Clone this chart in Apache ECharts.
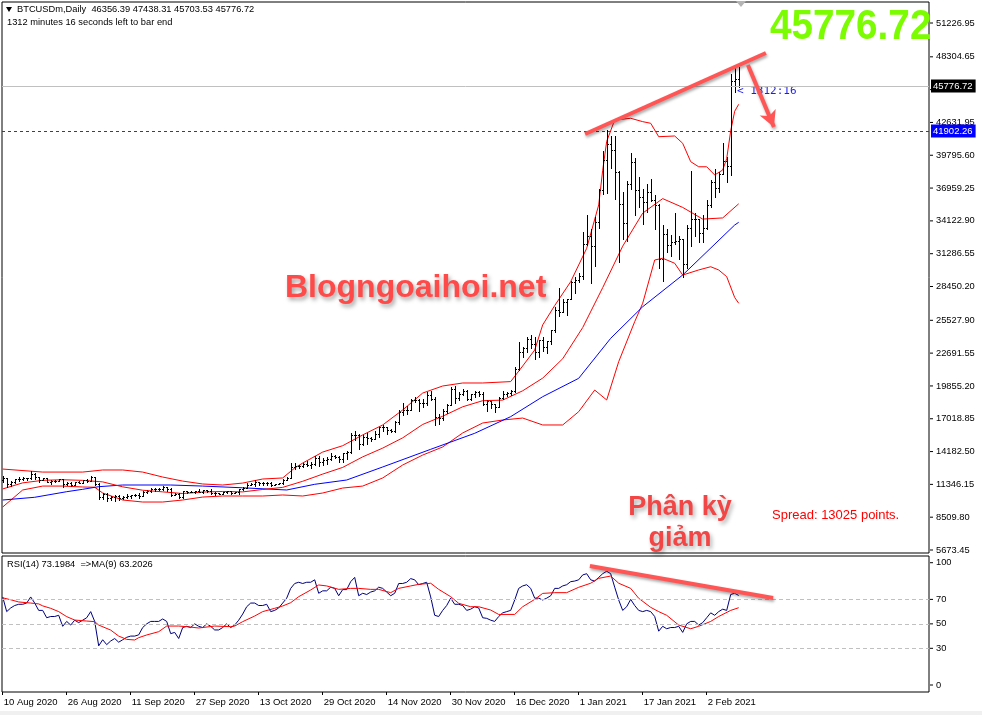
<!DOCTYPE html>
<html><head><meta charset="utf-8">
<script src="https://cdn.jsdelivr.net/npm/echarts@6/dist/echarts.min.js"></script>
<style>html,body{margin:0;padding:0;background:#fff;}#c{width:982px;height:715px;}</style>
</head><body><div id="c"></div>
<script>
// ---- categories / ticks ----
const tickIdx = [0,16,32,48,64,80,96,112,128,144,160,176];
const tickLabels = ['10 Aug 2020','26 Aug 2020','11 Sep 2020','27 Sep 2020','13 Oct 2020','29 Oct 2020','14 Nov 2020','30 Nov 2020','16 Dec 2020','1 Jan 2021','17 Jan 2021','2 Feb 2021'];
const priceTicks = [5673.45,8509.80,11346.15,14182.50,17018.85,19855.20,22691.55,25527.90,28450.20,31286.55,34122.90,36959.25,39795.60,42631.95,45468.30,48304.65,51226.95];
const rsiTicks = [0,30,50,70,100];
const rsiLevels = [30,50,70];

// ---- OHLC (daily, 10 Aug 2020 .. 10 Feb 2021) ----
const open = [11710,11880,11410,11585,11785,11770,11865,11890,12255,11990,11760,11880,11590,11680,11665,11775,11365,11490,11325,11540,11505,11710,
11680,11970,11415,10245,10510,10170,10280,10370,10130,10240,10365,10400,10445,10325,10680,10795,10975,10950,10945,11095,10940,10460,10540,10245,10755,10700,10730,10775,10710,10845,
10785,10620,10575,10550,10670,10790,10600,10670,10925,11050,11295,11385,11555,11425,11430,11505,11320,11360,11485,11740,11915,12825,12965,12930,13110,13030,13075,13655,13270,13435,13545,
13780,13735,13550,14025,14145,15590,15580,14835,15480,15330,15290,15700,16275,16315,16070,15955,16715,17645,17805,17815,18620,18640,18370,18365,19105,18730,17150,17110,17720,18175,
19625,18800,19200,19445,18700,19155,19345,19190,18320,18555,18265,18060,18805,19140,19245,19415,21310,22805,23135,23870,23475,22805,23785,23240,23735,24665,26435,26270,27085,27360,28840,
29000,29375,32125,32780,31970,33990,36825,39370,40795,40255,38355,35565,33920,37315,39185,36825,36180,35790,36630,35890,35470,30825,33005,32065,32290,32365,32570,30430,33465,34315,34270,
33115,33535,35510,37470,36925,38145,39265,38905,46195,46356.39];
const high = [12050,11940,11670,11790,12010,11970,11930,12470,12350,12020,11900,11890,11690,11700,11810,11780,11530,11590,11550,11600,11720,11770,
12060,11990,11450,10640,10570,10340,10400,10410,10350,10500,10420,10480,10560,10750,10900,11050,11030,11040,11170,11100,10990,10580,10560,10790,10770,10790,10800,10950,10860,10850,
10920,10660,10600,10690,10800,10800,10690,10950,11100,11490,11440,11700,11560,11550,11540,11540,11400,11490,11800,12010,13180,13160,13000,13160,13330,13240,13780,13840,13610,13680,14030,
13880,13810,14060,14220,15750,15930,15710,15650,15800,15460,15950,16310,16480,16320,16140,16850,17800,18390,18110,18700,18910,18690,18750,19330,19380,18900,17460,17850,18290,19750,
19860,19290,19570,19510,19170,19390,19390,19290,18620,18560,18290,18920,19380,19300,19520,21460,23640,23240,24090,24250,24070,23800,24060,23770,24730,26720,28290,27390,27370,28930,29300,
29600,33160,34610,33440,34440,36880,40180,41950,41440,41420,38400,36630,37600,39970,39580,37900,36850,37300,37760,36330,35550,33790,33450,32940,34800,32790,32570,33780,38410,34830,34290,
34640,35900,37660,38590,38310,40840,39620,46820,47300,47438.31];
const low = [11520,11130,11240,11500,11660,11710,11700,11850,11820,11590,11700,11510,11400,11550,11610,11160,11300,11180,11300,11450,11480,11590,
11620,11250,10120,10060,9890,10020,9920,9990,10090,10200,10200,10350,10210,10300,10620,10670,10800,10840,10900,10780,10370,10400,10150,10210,10580,10670,10620,10680,10640,10700,
10510,10400,10500,10520,10630,10530,10560,10540,10830,11030,11280,11180,11310,11300,11270,11230,11300,11340,11410,11690,11900,12700,12720,12890,12920,12790,13050,12940,12990,13130,13450,
13620,13240,13290,13560,14100,15210,14390,14780,14870,15090,15280,15450,15980,15720,15870,15890,16570,17340,17400,17760,18430,17670,18020,18180,18600,16440,16580,16880,17550,18170,
18370,18610,19080,18630,18610,18910,18950,18220,17660,17950,17620,18030,18760,19000,19100,19300,21240,22370,22800,23150,22160,22390,22840,22730,23460,24520,25920,26210,25990,27360,27850,
28800,29090,32050,28720,30220,33510,36420,36570,38720,35980,30550,32530,32380,36870,34660,35360,33850,34880,35850,33410,30070,28950,31390,31100,32090,30830,29240,30020,31970,32840,32300,
32300,33420,35360,36160,36620,38140,37450,38090,45300,45703.53];
const close = [11880,11410,11585,11785,11770,11865,11890,12255,11990,11760,11880,11590,11680,11665,11775,11365,11490,11325,11540,11505,11710,11680,
11970,11415,10245,10510,10170,10280,10370,10130,10240,10365,10400,10445,10325,10680,10795,10975,10950,10945,11095,10940,10460,10540,10245,10755,10700,10730,10775,10710,10845,10785,
10620,10575,10550,10670,10790,10600,10670,10925,11050,11295,11385,11555,11425,11430,11505,11320,11360,11485,11740,11915,12825,12965,12930,13110,13030,13075,13655,13270,13435,13545,13780,
13735,13550,14025,14145,15590,15580,14835,15480,15330,15290,15700,16275,16315,16070,15955,16715,17645,17805,17815,18620,18640,18370,18365,19105,18730,17150,17110,17720,18175,19625,
18800,19200,19445,18700,19155,19345,19190,18320,18555,18265,18060,18805,19140,19245,19415,21310,22805,23135,23870,23475,22805,23785,23240,23735,24665,26435,26270,27085,27360,28840,29000,
29375,32125,32780,31970,33990,36825,39370,40795,40255,38355,35565,33920,37315,39185,36825,36180,35790,36630,35890,35470,30825,33005,32065,32290,32365,32570,30430,33465,34315,34270,33115,
33535,35510,37470,36925,38145,39265,38905,46195,46356.39,45776.72];

// ---- Bollinger bands (read at sampled bars) ----
const upIdx = [0,10,20,25,30,35,40,45,50,55,60,65,70,73,75,80,85,90,95,100,105,110,115,120,127,130,133,135,138,142,146,149,150,151,153,157,160,162,164,168,170,172,174,176,178,180,181,182,183,184];
const upVals = [12670,12410,12410,12590,12590,12410,11980,11630,11380,11290,11460,11810,11900,12760,13190,14140,14690,15620,16480,17780,19240,19850,20110,20110,20230,21580,22960,25130,26800,28870,31750,35500,38500,41000,42840,42990,42700,42560,41400,41460,40830,39240,38800,38800,38090,38520,39500,41900,43600,44200];
const midIdx = [0,5,10,15,20,25,30,35,40,45,50,55,60,65,70,75,80,85,90,95,100,105,110,115,120,125,130,135,140,145,150,155,160,165,170,175,180,184];
const midVals = [10950,11477,11695,11747,11692,11562,11133,10840,10699,10555,10684,10733,10697,10904,11087,11614,12236,12813,13724,14482,15368,16527,17236,18053,18579,18630,19435,20531,22205,24899,28350,31936,34791,36047,35286,34277,34378,35600];
const lowIdx = [0,5,10,15,20,23,25,30,35,40,45,50,55,60,65,70,75,80,85,90,95,100,105,110,115,120,125,130,135,140,144,148,151,154,158,160,163,165,168,170,174,177,179,181,183,184];
const lowVals = [9390,10860,11200,11200,11120,11100,10600,9995,9820,9820,9995,10250,10340,10340,10340,10430,10340,10600,11030,11200,11900,13020,13880,14580,15790,16650,16910,17080,16480,16480,17630,19500,18640,21950,25410,27000,30740,30890,30460,29440,29880,30160,29880,29300,27500,27000];
// ---- moving average (blue) ----
const maIdx = [0,8,16,20,24,30,42,50,60,71,78,86,95,107,118,127,135,144,152,160,170,183,184];
const maVals = [9995,10230,10713,10920,11145,11292,11292,11200,11050,10860,11352,11724,12850,14378,15760,17200,18925,20514,23972,26700,29444,33766,34000];

// ---- RSI(14) per bar ----
const rsi = [72,60,63,65,66,66,67,72,67,61, 61,55,56,56,57,48,52,49,53,51, 53,55,60,52,32,37,33,36,38,35,
37,39,40,40,41,47,50,52,52,52, 54,52,42,43,38,47,48,47,50,48, 47,50,48,45,45,47,50,47,49,53,
58,64,67,67,65,65,66,60,61,63, 67,71,79,83,84,83,84,84,86,75, 77,77,
80,79,73,78,78,84.5,88,73,75,74, 76,77,80,79,76,73,75,83,83,84, 87,86,82,83,84,72,57,56,61,65,
71,66,66,65,61,62,64,63,55,54.5, 53,52,56,59,60,61,69.5,79,81,82, 79,71,71,69.5,71,73,79,79,81,82,
84.5,85,86,90,91,86,85,88,91,93, 91,80,69.5,61,64,70,65,61,60,61, 60,56,44,
48,46,47,47,48,43,50,52,52,49,51,55,59,57,60,62,61,74,75,73.1984];
// ---- RSI MA(9), read at sampled bars ----
const rmaIdx = [0,2,4,7,9,10,12,14,16,18,21,23,24,27,29,31,33,34,36,39,41,44,46,49,53,57,58,60,63,65,68,70,72,74,77,79,81,84,87,89,92,94,97,99,102,104,107,109,112,114,117,119,122,124,128,130,133,135,138,141,144,147,149,152,154,157,159,162,164,166,169,172,174,177,179,182,184];
const rmaVals = [71.3,69.7,67.9,67,66.3,64.7,62.7,60,55.9,53.1,52.3,51.8,49,44.9,40,37.3,36.8,38.7,40.9,43.6,48.2,48.2,47.7,46.6,48.2,47.7,48.2,51.8,56.4,60,62.7,64.6,67.3,72.2,77.7,81.8,81,78.2,79,79,78.2,78.2,75.5,79,81,82.3,83.2,78.2,72.2,66.8,64,64,61.3,57.7,57.7,64,70,74.9,75.5,75.5,79.9,83.2,87.2,89.1,83.2,79,70.9,63.5,60,57,49,46,48,52,56,61,63.2026];

// ---- drawn objects (bar index, price / rsi) ----
const trendMain = [[145.6,41632],[190.8,48634]];
const arrowMain = [[186.3,47597],[192.8,42237]];
const trendRsi = [[146.8,97.3],[192.6,71.1]];
const bidPrice = 45776.72;
const levelPrice = 41902.26;

// ---- layout constants ----
const X0 = 2.7;            // pixel of bar 0
const GL = 2, GW = 927;
const XMIN = -(X0 - GL) / 4, XMAX = XMIN + GW / 4;
const PMAX = 5673.45 + (550 - 2) * 86.44, PMIN = 5673.45 - (553 - 550) * 86.44;

const FONT = 'Liberation Sans';
const bars = close.map((c, i) => [i, open[i], high[i], low[i], c]);
const pairs = (a, b) => a.map((d, k) => [d, b[k]]);

const chart = echarts.init(document.getElementById('c'), null, {width: 982, height: 715});
const redLine = {color: '#ff5555', width: 4, type: 'solid', shadowColor: 'rgba(0,0,0,0.35)', shadowBlur: 3, shadowOffsetX: 1, shadowOffsetY: 2};
const noLine = {show: false, onZero: false};
const off = {show: false};
const tickRich = {t: {width: 3, height: 1, backgroundColor: '#000'}, s: {width: 3}};
const yLabel = (vals, fmt) => ({customValues: vals, formatter: v => '{t|}{s|}' + fmt(v), rich: tickRich, margin: 1, color: '#000', fontFamily: FONT, fontSize: 9.3});

chart.setOption({
  animation: false,
  backgroundColor: '#fff',
  grid: [
    {left: GL, top: 2, width: GW, height: 551, show: true, borderColor: '#000', borderWidth: 1, containLabel: false},
    {left: GL, top: 556, width: GW, height: 136, show: true, borderColor: '#000', borderWidth: 1, containLabel: false}
  ],
  xAxis: [
    {gridIndex: 0, type: 'value', min: XMIN, max: XMAX, axisLine: noLine, axisTick: off, minorTick: off, axisLabel: off, splitLine: off, minorSplitLine: off, splitArea: off},
    {gridIndex: 1, type: 'value', position: 'bottom', min: XMIN, max: XMAX, axisLine: noLine, splitLine: off, minorTick: off, minorSplitLine: off, splitArea: off,
      axisTick: {show: true, customValues: tickIdx, length: 3, lineStyle: {color: '#000'}},
      axisLabel: {customValues: tickIdx, formatter: v => tickLabels[tickIdx.indexOf(Math.round(v))] || '', align: 'left', margin: 5, color: '#000', fontFamily: FONT, fontSize: 9.5, padding: [0,0,0,1]}}
  ],
  yAxis: [
    {gridIndex: 0, type: 'value', position: 'right', offset: 0, min: PMIN, max: PMAX, splitLine: off, minorSplitLine: off, splitArea: off, axisLine: noLine, axisTick: off, minorTick: off,
      axisLabel: yLabel(priceTicks, v => v.toFixed(2))},
    {gridIndex: 1, type: 'value', position: 'right', offset: 0, min: -5.72, max: 105.48, splitLine: off, minorSplitLine: off, splitArea: off, axisLine: noLine, axisTick: off, minorTick: off,
      axisLabel: yLabel(rsiTicks, v => String(v))}
  ],
  series: [
    {type: 'line', name: 'BB upper', xAxisIndex: 0, yAxisIndex: 0, data: pairs(upIdx, upVals), symbol: 'none', lineStyle: {color: '#ff0000', width: 1}, clip: true, z: 3},
    {type: 'line', name: 'BB lower', xAxisIndex: 0, yAxisIndex: 0, data: pairs(lowIdx, lowVals), symbol: 'none', lineStyle: {color: '#ff0000', width: 1}, clip: true, z: 3},
    {type: 'line', name: 'MA', xAxisIndex: 0, yAxisIndex: 0, data: pairs(maIdx, maVals), symbol: 'none', lineStyle: {color: '#0000ff', width: 1}, clip: true, z: 3,
      markLine: {silent: true, symbol: 'none', animation: false, z: 5,
        lineStyle: {color: '#2a2aff', width: 1, type: [3,3], opacity: 1},
        data: [
          {yAxis: levelPrice,
            label: {show: true, position: 'end', distance: 2, formatter: levelPrice.toFixed(2), color: '#fff', backgroundColor: '#0000ff', padding: [2,3,1,2], fontFamily: FONT, fontSize: 9.5}}
        ]}},
    {type: 'line', name: 'BB mid', xAxisIndex: 0, yAxisIndex: 0, data: pairs(midIdx, midVals), symbol: 'none', lineStyle: {color: '#ff0000', width: 1}, clip: true, z: 3,
      markLine: {silent: true, symbol: 'none', animation: false, z: 5,
        lineStyle: {color: '#c0c0c0', width: 1, type: 'solid'},
        data: [
          {yAxis: bidPrice,
            label: {show: true, position: 'end', distance: 2, formatter: bidPrice.toFixed(2), color: '#fff', backgroundColor: '#000', padding: [2,3,1,2], fontFamily: FONT, fontSize: 9.5}}
        ]}},
    {type: 'custom', name: 'bars', xAxisIndex: 0, yAxisIndex: 0, data: bars, encode: {x: 0, y: [1,2,3,4]}, clip: true, z: 4,
      renderItem: function (params, api) {
        const i = api.value(0);
        const x = Math.round(api.coord([i, api.value(2)])[0]);
        const yh = Math.round(api.coord([i, api.value(2)])[1]);
        const yl = Math.round(api.coord([i, api.value(3)])[1]);
        const yo = Math.round(api.coord([i, api.value(1)])[1]) + 0.5;
        const yc = Math.round(api.coord([i, api.value(4)])[1]) + 0.5;
        const st = {stroke: '#000', lineWidth: 1};
        return {type: 'group', children: [
          {type: 'line', shape: {x1: x + 0.5, y1: yh, x2: x + 0.5, y2: yl + 1}, style: st},
          {type: 'line', shape: {x1: x - 1, y1: yo, x2: x, y2: yo}, style: st},
          {type: 'line', shape: {x1: x + 1, y1: yc, x2: x + 2, y2: yc}, style: st}
        ]};
      },
      markLine: {silent: true, animation: false, z: 10, label: {show: false},
        data: [
          [{coord: trendMain[0], symbol: 'none', lineStyle: redLine}, {coord: trendMain[1], symbol: 'none'}],
          [{coord: arrowMain[0], symbol: 'none', lineStyle: redLine}, {coord: arrowMain[1], symbol: 'arrow', symbolSize: [13, 16]}]
        ]}},
    {type: 'line', name: 'RSI', xAxisIndex: 1, yAxisIndex: 1, data: rsi.map((v, i) => [i, v]), symbol: 'none', lineStyle: {color: '#000080', width: 1}, clip: true, z: 3,
      markLine: {silent: true, symbol: 'none', animation: false, label: {show: false},
        data: rsiLevels.map(v => ({yAxis: v, lineStyle: {color: '#c0c0c0', width: 1, type: [4,3]}})).concat([
          [{coord: trendRsi[0], lineStyle: redLine}, {coord: trendRsi[1]}]
        ])}},
    {type: 'line', name: 'RSI MA', xAxisIndex: 1, yAxisIndex: 1, data: pairs(rmaIdx, rmaVals), symbol: 'none', lineStyle: {color: '#ff0000', width: 1}, clip: true, z: 3}
  ],
  graphic: [
    {type: 'polygon', shape: {points: [[6,7],[12,7],[9,12]]}, style: {fill: '#000'}},
    {type: 'text', left: 17, top: 5, style: {text: 'BTCUSDm,Daily  46356.39 47438.31 45703.53 45776.72', fill: '#000', font: '9.3px "Liberation Sans"'}},
    {type: 'text', left: 7, top: 18, style: {text: '1312 minutes 16 seconds left to bar end', fill: '#000', font: '9.3px "Liberation Sans"'}},
    {type: 'text', left: 7, top: 560, style: {text: 'RSI(14) 73.1984  =>MA(9) 63.2026', fill: '#000', font: '9.3px "Liberation Sans"'}},
    {type: 'polygon', shape: {points: [[736,1],[746,1],[741,7]]}, style: {fill: '#b4b4b4'}},
    {type: 'text', x: 770, y: 6, scaleX: 0.9, style: {text: '45776.72', fill: '#7cfc00', font: 'bold 43px "Liberation Sans"'}},
    {type: 'text', left: 737, top: 86, style: {text: '< 1312:16', fill: '#1a1aff', font: '11px "DejaVu Sans Mono"'}, z: 1},
    {type: 'text', left: 285, top: 272, style: {text: 'Blogngoaihoi.net', fill: '#ff4a4a', font: 'bold 32px "Liberation Sans"', textShadowColor: 'rgba(0,0,0,0.35)', textShadowBlur: 4, textShadowOffsetX: 2, textShadowOffsetY: 3}},
    {type: 'text', x: 680, y: 494, style: {text: 'Phân kỳ', textAlign: 'center', fill: '#f24545', font: 'bold 27px "Liberation Sans"', textShadowColor: 'rgba(0,0,0,0.3)', textShadowBlur: 4, textShadowOffsetX: 2, textShadowOffsetY: 3}},
    {type: 'text', x: 680, y: 525, style: {text: 'giảm', textAlign: 'center', fill: '#f24545', font: 'bold 27px "Liberation Sans"', textShadowColor: 'rgba(0,0,0,0.3)', textShadowBlur: 4, textShadowOffsetX: 2, textShadowOffsetY: 3}},
    {type: 'text', left: 772, top: 509, style: {text: 'Spread: 13025 points.', fill: '#ff0000', font: '13px "Liberation Sans"'}},
    {type: 'rect', shape: {x: 0, y: 711, width: 982, height: 4}, style: {fill: '#f0f0f0'}}
  ]
});
</script>
</body></html>
